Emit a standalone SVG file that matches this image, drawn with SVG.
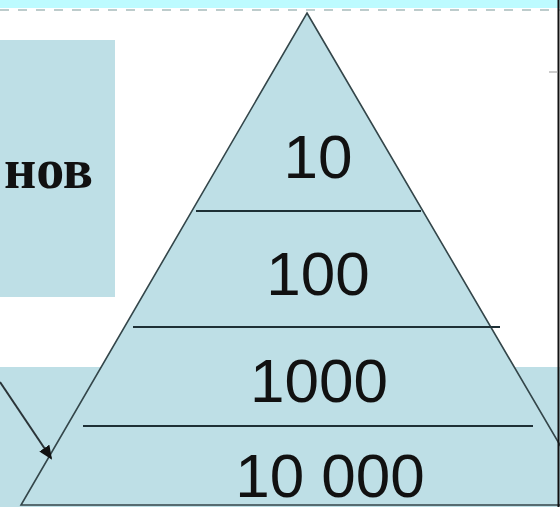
<svg xmlns="http://www.w3.org/2000/svg" width="560" height="507" viewBox="0 0 560 507">
<style>
.fill{fill:#BEDFE6}
.edge{fill:#BEDFE6;stroke:#34464a;stroke-width:1.6}
.sep{stroke:#1e3036;stroke-width:2}
.num{font-family:"Liberation Sans",Arial,sans-serif;font-size:62px;fill:#111;text-anchor:middle}
.lbl{font-family:"Liberation Serif","Times New Roman",serif;font-size:56px;font-weight:bold;fill:#111;text-anchor:end}
</style>
<defs>
<marker id="ah" markerWidth="14" markerHeight="12" refX="12" refY="6" orient="auto" markerUnits="userSpaceOnUse"><path d="M0,0 L14,6 L0,12 Z" fill="#111"/></marker>
</defs>
<rect x="0" y="0" width="560" height="507" fill="#fff"/>
<rect x="0" y="0" width="560" height="8" fill="#BDFBFF"/>
<line x1="0" y1="10" x2="560" y2="10" stroke="#a8bcbc" stroke-width="1.5" stroke-dasharray="9,9"/>
<g id="leftbox">
<rect class="fill" x="0" y="40" width="115" height="257"/>
<text class="lbl" x="93" y="188">нов</text>
</g>
<rect id="band" class="fill" x="0" y="367" width="560" height="140"/>
<g id="pyramid">
<polygon class="edge" points="307,13 595,505 21,505"/>
</g>
<g id="connectors">
<line class="sep" x1="196" y1="211" x2="421" y2="211"/>
<line class="sep" x1="133" y1="327" x2="500" y2="327"/>
<line class="sep" x1="83" y1="426" x2="533" y2="426"/>
<line x1="0" y1="382" x2="51" y2="458" stroke="#2a3438" stroke-width="2" marker-end="url(#ah)"/>
</g>
<g id="level1"><text class="num" x="318" y="178">10</text></g>
<g id="level2"><text class="num" x="318" y="295">100</text></g>
<g id="level3"><text class="num" x="319" y="402">1000</text></g>
<g id="level4"><text class="num" x="330" y="497">10 000</text></g>
<line x1="558.5" y1="0" x2="558.5" y2="507" stroke="#111" stroke-width="2"/>
<line x1="549" y1="72" x2="558" y2="72" stroke="#999" stroke-width="1"/>
</svg>
